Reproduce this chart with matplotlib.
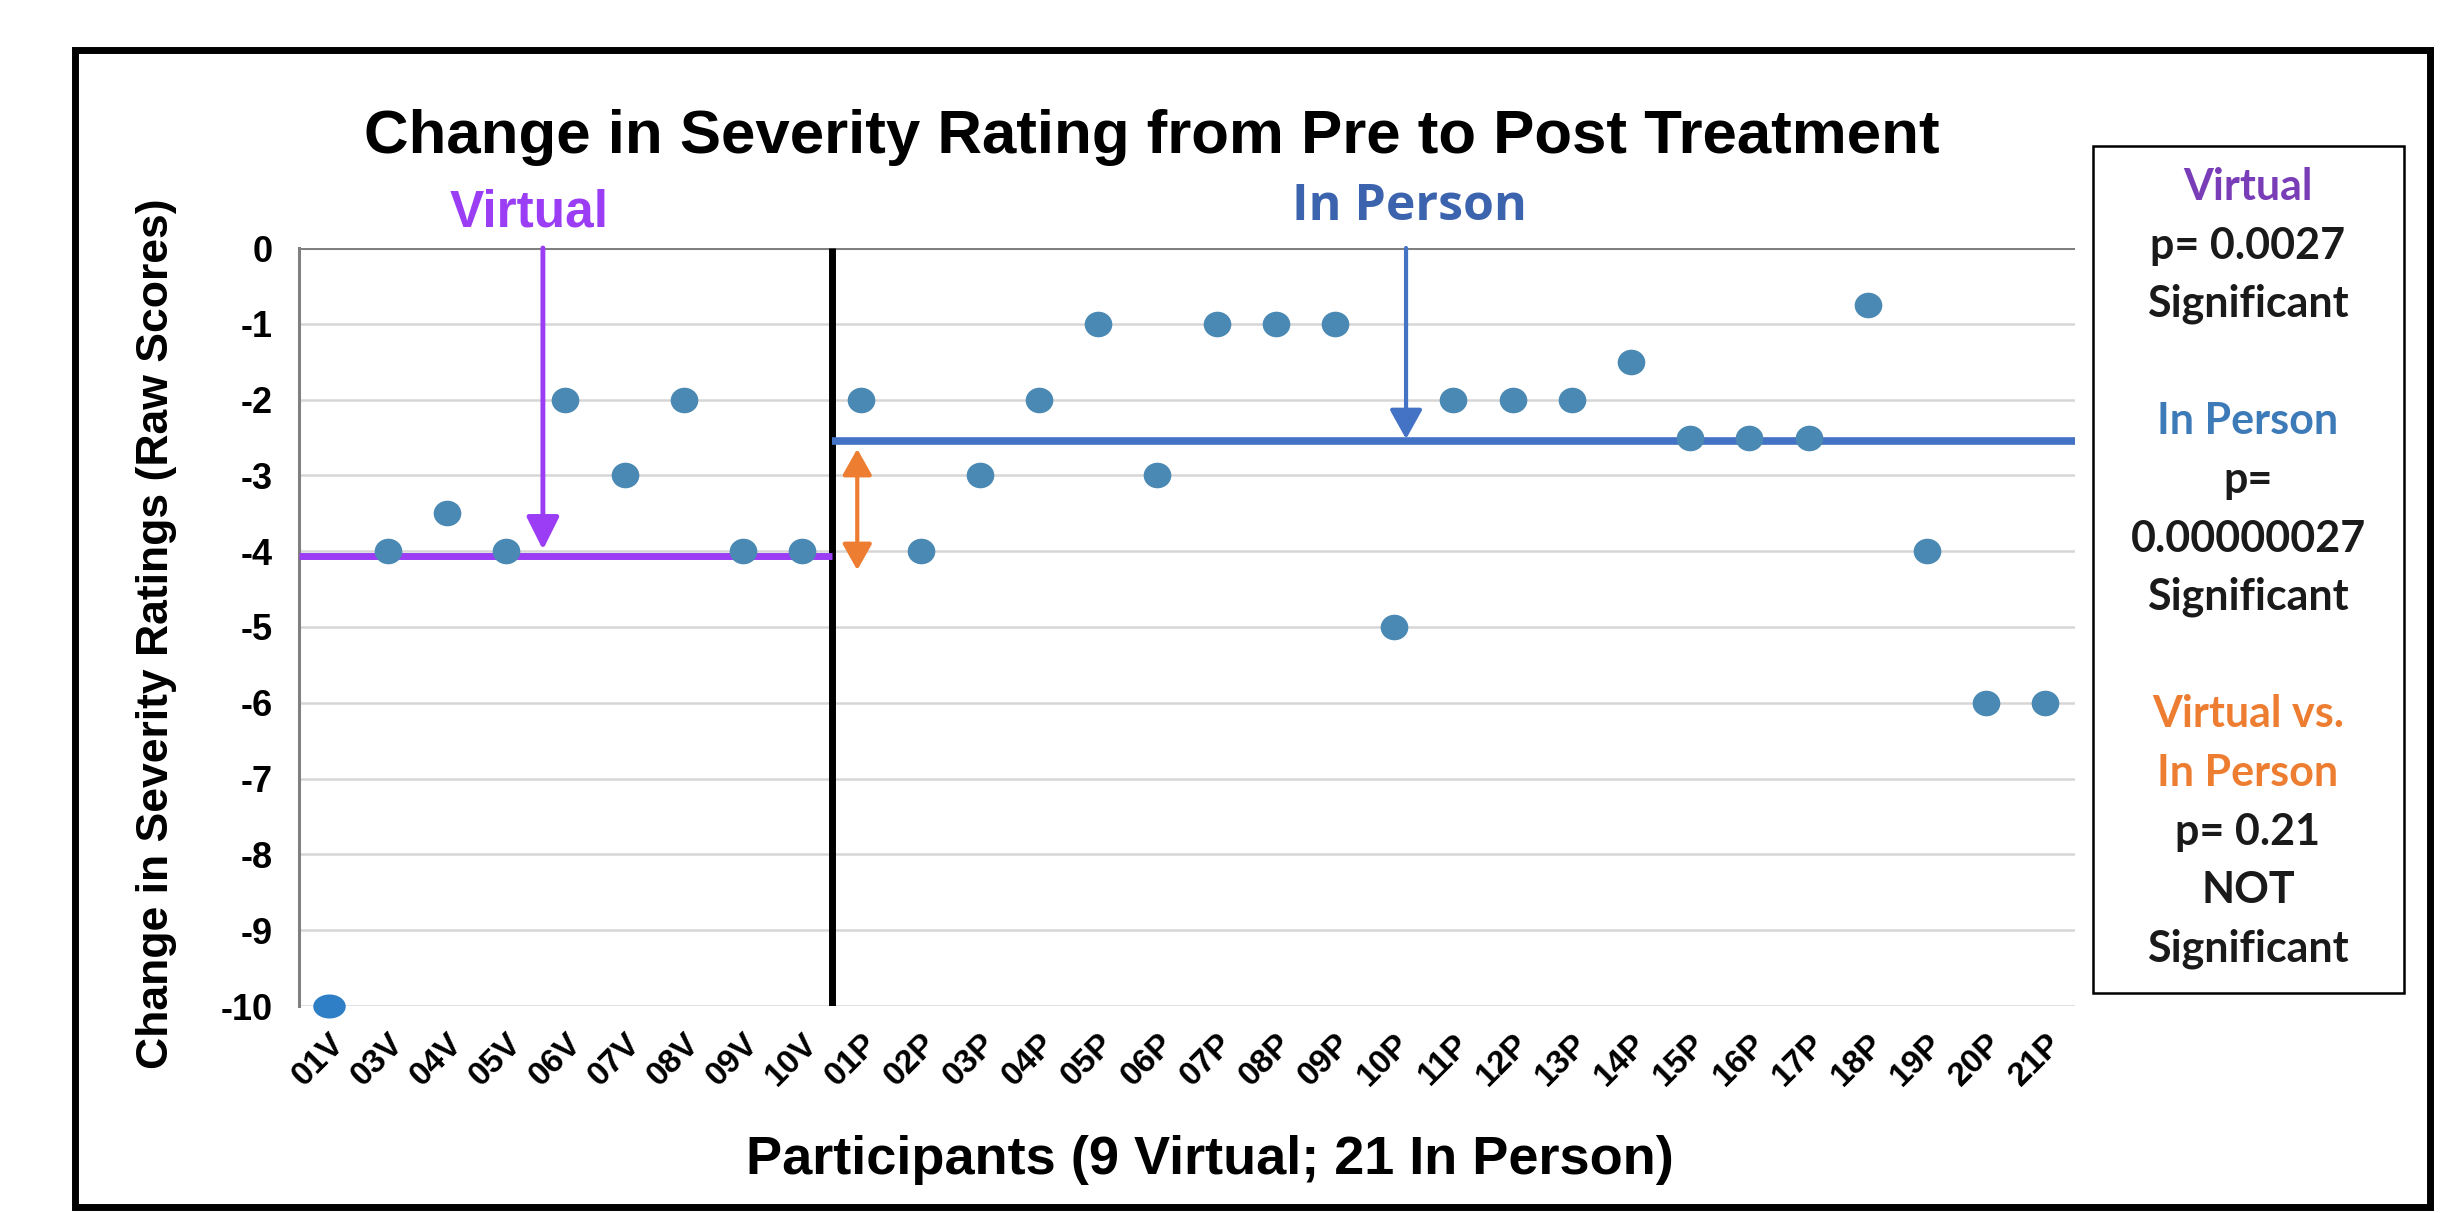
import matplotlib
matplotlib.use("Agg")
import matplotlib.pyplot as plt
import matplotlib.patches as patches
import matplotlib.transforms as mtransforms
from matplotlib.markers import MarkerStyle

# participant ids and change scores
virtual_ids = ["01V", "03V", "04V", "05V", "06V", "07V", "08V", "09V", "10V"]
virtual_change = [-10, -4, -3.5, -4, -2, -3, -2, -4, -4]
inperson_ids = ["01P", "02P", "03P", "04P", "05P", "06P", "07P", "08P", "09P", "10P",
                "11P", "12P", "13P", "14P", "15P", "16P", "17P", "18P", "19P", "20P", "21P"]
inperson_change = [-2, -4, -3, -2, -1, -3, -1, -1, -1, -5,
                   -2, -2, -2, -1.5, -2.5, -2.5, -2.5, -0.75, -4, -6, -6]
# group mean lines as drawn on the chart
virtual_mean = -4.06
inperson_mean = -2.55
y_ticks = [0, -1, -2, -3, -4, -5, -6, -7, -8, -9, -10]

# side box text: (text, colour)
box_lines = [
    ("Virtual", "#7A3DB8"), ("p= 0.0027", "#1a1a1a"), ("Significant", "#1a1a1a"),
    ("", "#000000"),
    ("In Person", "#3D7AB8"), ("p=", "#1a1a1a"), ("0.00000027", "#1a1a1a"), ("Significant", "#1a1a1a"),
    ("", "#000000"),
    ("Virtual vs.", "#ED7D31"), ("In Person", "#ED7D31"), ("p= 0.21", "#1a1a1a"),
    ("NOT", "#1a1a1a"), ("Significant", "#1a1a1a"),
]

W, H = 2442, 1213
DOT = "#4A89B3"
PURPLE = "#9A3DF5"
BLUE = "#4472C4"
ORANGE = "#ED7D31"


def fx(px):
    return px / W


def fy(py):
    return 1 - py / H


def main():
    fig = plt.figure(figsize=(W / 100, H / 100), dpi=100)
    fig.patch.set_facecolor("white")
    ax = fig.add_axes([fx(299), fy(1006), fx(2075) - fx(299), fy(248) - fy(1006)])

    labels = virtual_ids + inperson_ids
    values = virtual_change + inperson_change
    xs = list(range(len(labels)))
    n_v = len(virtual_ids)

    # grid
    for y in y_ticks:
        if y == 0:
            ax.axhline(y, color="#808080", lw=2.2, zorder=1)
        else:
            ax.axhline(y, color="#D6D6D6", lw=1.8, zorder=1)

    # points (slightly wide ovals, like the source)
    oval = MarkerStyle("o", transform=mtransforms.Affine2D().scale(1.08, 1.0))
    wide_oval = MarkerStyle("o", transform=mtransforms.Affine2D().scale(1.35, 1.0))
    ax.scatter(xs[1:], values[1:], s=340, color=DOT, marker=oval, zorder=4, linewidths=0)
    ax.scatter(xs[:1], values[:1], s=300, color="#2E7FC6", marker=wide_oval, zorder=4,
               linewidths=0, clip_on=False)

    # group split and means
    split = n_v - 0.5
    ax.plot([split, split], [0, -10], color="black", lw=5, zorder=3, solid_capstyle="butt")
    ax.plot([-0.5, split], [virtual_mean, virtual_mean], color=PURPLE, lw=5, zorder=3,
            solid_capstyle="butt")
    ax.plot([split, len(labels) - 0.5], [inperson_mean, inperson_mean], color=BLUE, lw=5.5,
            zorder=3, solid_capstyle="butt")

    # arrows
    ax.annotate("", xy=(3.62, virtual_mean + 0.08), xytext=(3.62, 0),
                arrowprops=dict(arrowstyle="-|>,head_length=1.0,head_width=0.5", color=PURPLE,
                                lw=3.5, mutation_scale=20, shrinkA=0, shrinkB=0), zorder=5)
    ax.annotate("", xy=(18.2, inperson_mean + 0.03), xytext=(18.2, 0),
                arrowprops=dict(arrowstyle="-|>,head_length=0.9,head_width=0.5", color=BLUE,
                                lw=3.0, mutation_scale=20, shrinkA=0, shrinkB=0), zorder=5)
    ax.annotate("", xy=(8.93, -4.25), xytext=(8.93, -2.65),
                arrowprops=dict(arrowstyle="<|-|>,head_length=0.8,head_width=0.45", color=ORANGE,
                                lw=3.0, mutation_scale=20, shrinkA=0, shrinkB=0), zorder=5)

    ax.set_xlim(-0.5, len(labels) - 0.5)
    ax.set_ylim(-10, 0)
    ax.set_yticks(y_ticks)
    ax.set_yticklabels([str(t) for t in y_ticks], fontsize=26, fontweight="bold",
                       family="Liberation Sans")
    ax.set_xticks(xs)
    ax.set_xticklabels(labels, rotation=45, ha="right", va="top", rotation_mode="anchor",
                       fontsize=24, fontweight="bold", family="Liberation Sans")
    shift = mtransforms.ScaledTranslation(0.14, 0, fig.dpi_scale_trans)
    for lab in ax.get_xticklabels():
        lab.set_transform(lab.get_transform() + shift)
    ax.tick_params(axis="y", length=0, pad=19)
    ax.tick_params(axis="x", length=0, pad=16)
    for side in ["top", "right", "bottom"]:
        ax.spines[side].set_visible(False)
    ax.spines["left"].set_color("#808080")
    ax.spines["left"].set_linewidth(2.2)

    # texts
    fig.text(fx(1152), fy(137), "Change in Severity Rating from Pre to Post Treatment",
             ha="center", va="center", fontsize=44.5, fontweight="bold", family="Liberation Sans")
    fig.text(fx(157), fy(634), "Change in Severity Ratings (Raw Scores)", rotation=90,
             ha="center", va="center", fontsize=32, fontweight="bold", family="Liberation Sans")
    fig.text(fx(1210), fy(1160), "Participants (9 Virtual; 21 In Person)",
             ha="center", va="center", fontsize=39, fontweight="bold", family="Liberation Sans")
    fig.text(fx(529), fy(213), "Virtual", ha="center", va="center", fontsize=37,
             fontweight="bold", color=PURPLE, family="Liberation Sans")
    fig.text(fx(1409), fy(207), "In Person", ha="center", va="center", fontsize=36,
             fontweight="bold", color="#3C64AE", family="Open Sans")

    # side box
    fig.add_artist(patches.Rectangle((fx(2093), fy(993)), fx(2404) - fx(2093), fy(146) - fy(993),
                                     transform=fig.transFigure, fill=False, edgecolor="black",
                                     lw=1.8))
    y0 = 187
    step = 58.6
    for i, (txt, col) in enumerate(box_lines):
        if txt:
            fig.text(fx(2248), fy(y0 + i * step), txt, ha="center", va="center", fontsize=31,
                     fontweight="bold", color=col, family="Lato")

    # outer frame
    fig.add_artist(patches.Rectangle((fx(75), fy(1207)), fx(2430) - fx(75), fy(50) - fy(1207),
                                     transform=fig.transFigure, fill=False, edgecolor="black",
                                     lw=5))

    fig.savefig("out.png", dpi=100)


if __name__ == "__main__":
    main()
